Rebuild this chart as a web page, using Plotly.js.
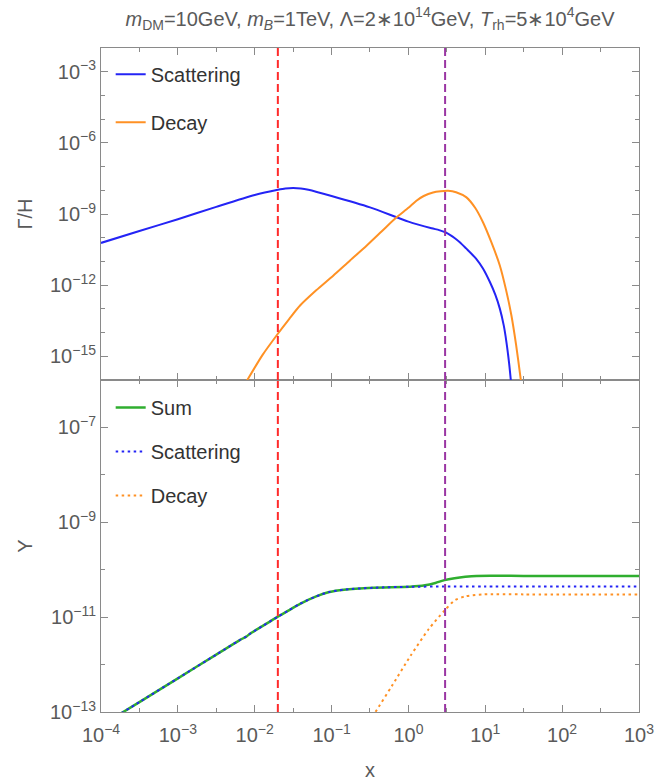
<!DOCTYPE html>
<html>
<head>
<meta charset="utf-8">
<script src="https://cdn.plot.ly/plotly-3.0.1.min.js"></script>
<style>html,body{margin:0;padding:0;background:#fff;}#chart{width:657px;height:781px;}</style>
</head>
<body>
<div id="chart"></div>
<script>
// ---- Top panel: Gamma/H ----
const topScatX = [1e-4, 3.16e-4, 1e-3, 3.16e-3, 1e-2, 2e-2, 2.5e-2, 3.16e-2, 3.98e-2, 5e-2, 0.1, 0.316, 1, 2, 2.51, 3.02, 3.55, 3.98, 4.66, 5.62, 7.67, 9.33, 11.48, 13.49, 15.49, 17.38, 18.84, 20.42, 21.63];
const topScatY = [6.03e-11, 1.91e-10, 6.03e-10, 2.0e-9, 6.31e-9, 1.05e-8, 1.20e-8, 1.26e-8, 1.20e-8, 1.05e-8, 5.75e-9, 1.91e-9, 4.79e-10, 2.51e-10, 2.09e-10, 1.70e-10, 1.26e-10, 9.77e-11, 6.46e-11, 3.55e-11, 1.26e-11, 5.01e-12, 1.35e-12, 3.98e-13, 1.0e-13, 2.0e-14, 3.98e-15, 5.01e-16, 7.94e-17];
const topDecayX = [7.08e-3, 8.22e-3, 1.26e-2, 2.0e-2, 2.82e-2, 3.89e-2, 6.31e-2, 0.105, 0.174, 0.285, 0.447, 0.700, 1.0, 1.27, 1.58, 2.09, 2.63, 3.28, 4.17, 5.69, 7.41, 9.33, 12.02, 15.49, 18.62, 21.88, 25.12, 28.84, 30.2];
const topDecayY = [5.01e-17, 1.15e-16, 1.12e-15, 8.91e-15, 3.80e-14, 1.38e-13, 6.03e-13, 2.51e-12, 1.10e-11, 4.57e-11, 1.82e-10, 7.24e-10, 1.82e-9, 3.63e-9, 5.75e-9, 8.13e-9, 9.12e-9, 9.55e-9, 8.32e-9, 5.01e-9, 1.78e-9, 4.47e-10, 6.31e-11, 6.61e-12, 6.31e-13, 5.25e-14, 3.16e-15, 1.15e-16, 3.16e-17];

// ---- Bottom panel: Y ----
const botSumX = [1.58e-4, 3.16e-4, 1e-3, 3.16e-3, 6.31e-3, 7.76e-3, 8.71e-3, 1.26e-2, 1.95e-2, 2.82e-2, 3.89e-2, 6.31e-2, 9.33e-2, 0.145, 0.351, 1.05, 1.64, 2.24, 2.95, 3.98, 5.5, 7.67, 31.6, 100, 1000];
const botSumY = [8.13e-14, 1.62e-13, 5.13e-13, 1.62e-12, 3.24e-12, 3.89e-12, 4.47e-12, 6.46e-12, 1.0e-11, 1.41e-11, 1.91e-11, 2.75e-11, 3.39e-11, 3.80e-11, 4.17e-11, 4.37e-11, 4.68e-11, 5.25e-11, 6.03e-11, 6.61e-11, 7.08e-11, 7.41e-11, 7.41e-11, 7.41e-11, 7.41e-11];
const botScatX = [1.58e-4, 3.16e-4, 1e-3, 3.16e-3, 6.31e-3, 7.76e-3, 8.71e-3, 1.26e-2, 1.95e-2, 2.82e-2, 3.89e-2, 6.31e-2, 9.33e-2, 0.145, 0.351, 1.05, 3, 10, 100, 1000];
const botScatY = [8.13e-14, 1.62e-13, 5.13e-13, 1.62e-12, 3.24e-12, 3.89e-12, 4.47e-12, 6.46e-12, 1.0e-11, 1.41e-11, 1.91e-11, 2.75e-11, 3.39e-11, 3.80e-11, 4.17e-11, 4.37e-11, 4.42e-11, 4.42e-11, 4.42e-11, 4.42e-11];
const botDecayX = [0.339, 0.372, 0.610, 1.06, 1.84, 2.95, 3.98, 5.5, 9.55, 31.6, 1000];
const botDecayY = [7.94e-14, 1.0e-13, 3.55e-13, 1.51e-12, 5.62e-12, 1.38e-11, 2.24e-11, 2.75e-11, 3.02e-11, 3.02e-11, 3.02e-11];

// ---- vertical reference lines ----
const vlineX = [0.02, 3];
const vlineColors = ['#ff2b2b', '#9a35a3'];

// ---- ticks ----
const xTickVals = [1e-4, 1e-3, 1e-2, 1e-1, 1e0, 1e1, 1e2, 1e3];
const xTickText = ['10<sup>−4</sup>', '10<sup>−3</sup>', '10<sup>−2</sup>', '10<sup>−1</sup>', '10<sup>0</sup>', '10<sup>1</sup>', '10<sup>2</sup>', '10<sup>3</sup>'];
const xMinorVals = [3.16e-4, 3.16e-3, 3.16e-2, 0.316, 3.16, 31.6, 316];
const topTickVals = [1e-15, 1e-12, 1e-9, 1e-6, 1e-3];
const topTickText = ['10<sup>−15</sup>', '10<sup>−12</sup>', '10<sup>−9</sup>', '10<sup>−6</sup>', '10<sup>−3</sup>'];
const topMinorVals = [1e-16, 1e-14, 1e-13, 1e-11, 1e-10, 1e-8, 1e-7, 1e-5, 1e-4, 1e-2];
const botTickVals = [1e-13, 1e-11, 1e-9, 1e-7];
const botTickText = ['10<sup>−13</sup>', '10<sup>−11</sup>', '10<sup>−9</sup>', '10<sup>−7</sup>'];
const botMinorVals = [1e-12, 1e-10, 1e-8, 1e-6];

const FONT = 'Liberation Sans, Arial, sans-serif';
const AX = '#8a8a8a';
const TXT = '#5a5a5a';
const SPL = {shape: 'spline', smoothing: 0.7};

const traces = [];
// top panel
traces.push({x: topScatX, y: topScatY, xaxis: 'x2', yaxis: 'y2', mode: 'lines', name: 'Scattering',
  line: Object.assign({color: '#2424f5', width: 2}, SPL), legend: 'legend', legendgroup: 'a'});
traces.push({x: topDecayX, y: topDecayY, xaxis: 'x2', yaxis: 'y2', mode: 'lines', name: 'Decay',
  line: Object.assign({color: '#ff9124', width: 2}, SPL), legend: 'legend', legendgroup: 'b'});
// bottom panel
traces.push({x: botSumX, y: botSumY, xaxis: 'x', yaxis: 'y', mode: 'lines', name: 'Sum',
  line: Object.assign({color: '#2fae2f', width: 2.5}, SPL), legend: 'legend2', legendgroup: 'c'});
traces.push({x: botScatX, y: botScatY, xaxis: 'x', yaxis: 'y', mode: 'lines', name: 'Scattering',
  line: Object.assign({color: '#2424f5', width: 2, dash: '2.5px,3.5px'}, SPL), legend: 'legend2', legendgroup: 'd'});
traces.push({x: botDecayX, y: botDecayY, xaxis: 'x', yaxis: 'y', mode: 'lines', name: 'Decay',
  line: Object.assign({color: '#ff9124', width: 2, dash: '2.5px,3.5px'}, SPL), legend: 'legend2', legendgroup: 'e'});
// vertical dashed lines in both panels
vlineX.forEach((v, i) => {
  traces.push({x: [v, v], y: [1e-16, 1e-2], xaxis: 'x2', yaxis: 'y2', mode: 'lines', showlegend: false,
    hoverinfo: 'skip', line: {color: vlineColors[i], width: 2, dash: '8px,4px'}});
  traces.push({x: [v, v], y: [1e-13, 1e-6], xaxis: 'x', yaxis: 'y', mode: 'lines', showlegend: false,
    hoverinfo: 'skip', line: {color: vlineColors[i], width: 2, dash: '8px,4px'}});
});

function xAxis(extra) {
  return Object.assign({
    type: 'log', range: [-4, 3], showgrid: false, zeroline: false,
    showline: true, linecolor: AX, linewidth: 1, mirror: 'allticks',
    ticks: 'inside', ticklen: 7, tickcolor: AX, tickwidth: 1,
    tickmode: 'array', tickvals: xTickVals, ticktext: xTickText,
    tickfont: {family: FONT, size: 20, color: TXT}, ticklabelstandoff: 5,
    minor: {tickmode: 'array', tickvals: xMinorVals, ticks: 'inside', ticklen: 4, tickcolor: AX, showgrid: false}
  }, extra);
}
function yAxis(extra, vals, text, minor) {
  return Object.assign({
    type: 'log', showgrid: false, zeroline: false,
    showline: true, linecolor: AX, linewidth: 1, mirror: 'allticks',
    ticks: 'inside', ticklen: 7, tickcolor: AX, tickwidth: 1,
    tickmode: 'array', tickvals: vals, ticktext: text,
    tickfont: {family: FONT, size: 20, color: TXT},
    minor: {tickmode: 'array', tickvals: minor, ticks: 'inside', ticklen: 4, tickcolor: AX, showgrid: false}
  }, extra);
}

const layout = {
  width: 657, height: 781,
  margin: {l: 101, r: 18, t: 48, b: 69, pad: 0},
  paper_bgcolor: '#ffffff', plot_bgcolor: '#ffffff',
  font: {family: FONT, color: TXT},
  title: {
    text: '<i>m</i><sub>DM</sub>=10GeV, <i>m<sub>B</sub></i>=1TeV, Λ=2∗10<sup>14</sup>GeV, <i>T</i><sub>rh</sub>=5∗10<sup>4</sup>GeV',
    font: {family: FONT, size: 20, color: TXT},
    xref: 'paper', x: 0.5, xanchor: 'center',
    yref: 'container', y: 0.976, yanchor: 'middle'
  },
  xaxis: xAxis({anchor: 'y', domain: [0, 1], title: {text: 'x', font: {family: FONT, size: 20, color: TXT}, standoff: 20}}),
  xaxis2: xAxis({anchor: 'y2', domain: [0, 1], matches: 'x', showticklabels: false}),
  yaxis: yAxis({anchor: 'x', domain: [0, 0.5], range: [-13, -6],
    title: {text: 'Y', font: {family: FONT, size: 20, color: TXT}, standoff: 12}}, botTickVals, botTickText, botMinorVals),
  yaxis2: yAxis({anchor: 'x2', domain: [0.5, 1], range: [-16, -2],
    title: {text: 'Γ/H', font: {family: FONT, size: 20, color: TXT}, standoff: 12}}, topTickVals, topTickText, topMinorVals),
  legend: {x: 0.018, y: 0.990, xanchor: 'left', yanchor: 'top', bgcolor: 'rgba(0,0,0,0)',
    font: {family: FONT, size: 20, color: '#333'}, traceorder: 'grouped', tracegroupgap: 19},
  legend2: {x: 0.018, y: 0.488, xanchor: 'left', yanchor: 'top', bgcolor: 'rgba(0,0,0,0)',
    font: {family: FONT, size: 20, color: '#333'}, traceorder: 'grouped', tracegroupgap: 15},
  showlegend: true
};

Plotly.newPlot('chart', traces, layout, {staticPlot: true, displayModeBar: false});
</script>
</body>
</html>
